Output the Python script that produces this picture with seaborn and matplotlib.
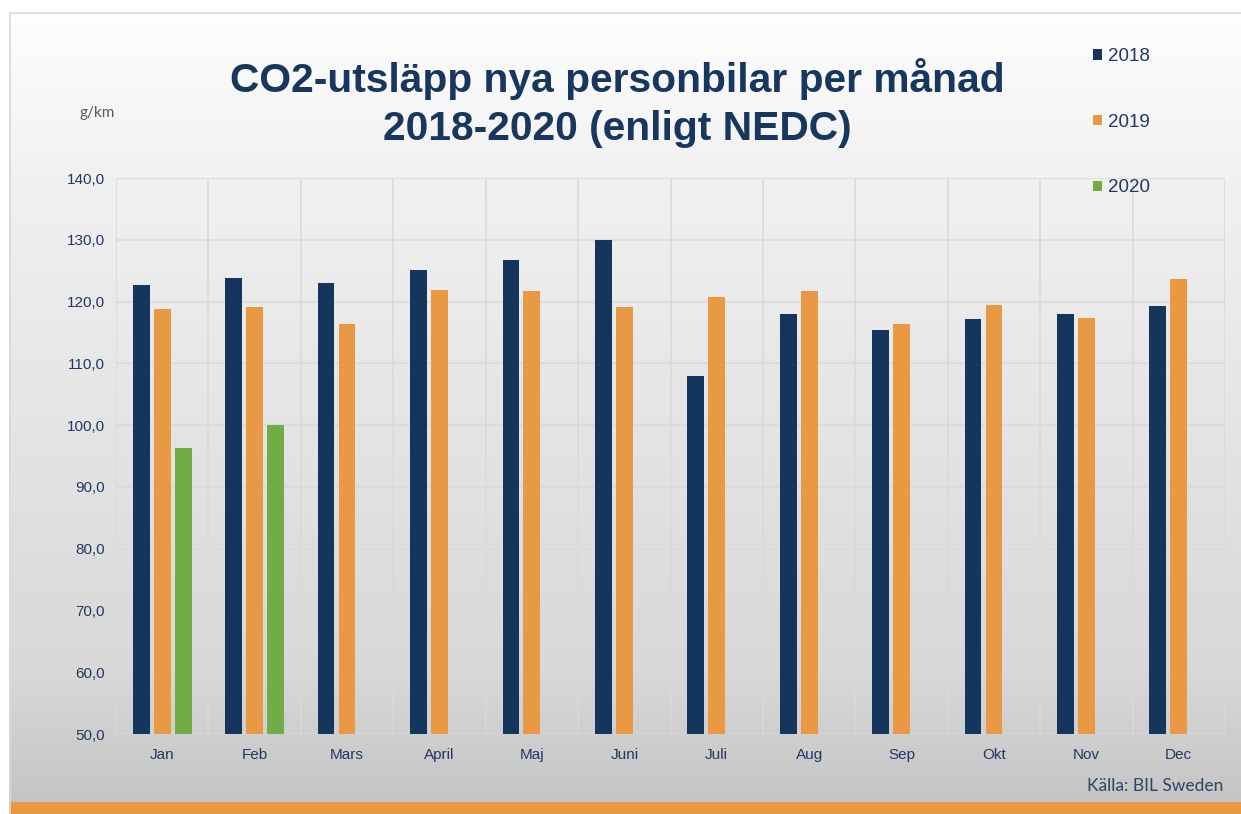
import numpy as np
import pandas as pd
import matplotlib
matplotlib.use("Agg")
import matplotlib.pyplot as plt
import seaborn as sns
from matplotlib.patches import Rectangle
from matplotlib.lines import Line2D
from matplotlib.ticker import FuncFormatter, FixedLocator

# ---- data ----
months = ["Jan", "Feb", "Mars", "April", "Maj", "Juni", "Juli", "Aug", "Sep", "Okt", "Nov", "Dec"]
years = ["2018", "2019", "2020"]
v2018 = [122.6, 123.8, 123.0, 125.1, 126.7, 130.0, 108.0, 118.0, 115.4, 117.2, 118.0, 119.3]
v2019 = [118.8, 119.1, 116.4, 121.9, 121.7, 119.1, 120.7, 121.7, 116.4, 119.4, 117.4, 123.6]
v2020 = [96.3, 100.0]
yticks = [50, 60, 70, 80, 90, 100, 110, 120, 130, 140]
colors = ["#14365C", "#E99843", "#70AD47"]

rows = []
for series, yr in ((v2018, "2018"), (v2019, "2019"), (v2020, "2020")):
    for m, v in zip(months, series):
        rows.append({"month": m, "year": yr, "value": v})
df = pd.DataFrame(rows)

sns.set_theme(style="white")
plt.rcParams['font.family'] = ['Liberation Sans', 'DejaVu Sans']

W, H = 1241, 814
fig = plt.figure(figsize=(W / 100, H / 100), dpi=100)
fig.patch.set_facecolor("white")

# gradient background panel
bg = fig.add_axes([9 / W, 0, 1 - 9 / W, 1 - 12 / H])
bg.set_axis_off()
py = np.arange(12, 814)
g = np.interp(py, [12, 178, 672, 800, 814], [254, 241, 216, 197, 197]) / 255.0
img = np.repeat(g[:, None], 2, axis=1)
bg.imshow(np.dstack([img, img, img]), aspect="auto", extent=[0, 1, 0, 1], interpolation="bilinear")
bg.set_zorder(-10)

# frame lines and bottom orange band
fig.add_artist(Line2D([9.5 / W, 9.5 / W], [0, 1 - 12.5 / H], color="#D9D9D9", lw=1.2, transform=fig.transFigure))
fig.add_artist(Line2D([9.5 / W, 1], [1 - 12.5 / H, 1 - 12.5 / H], color="#D9D9D9", lw=1.2, transform=fig.transFigure))
fig.add_artist(Rectangle((9 / W, 0), 1 - 9 / W, 12 / H, transform=fig.transFigure,
                         facecolor="#E99843", edgecolor="none"))

# main axes
ax = fig.add_axes([116 / W, (814 - 734) / H, (1225 - 116) / W, (734 - 178) / H])
ax.set_facecolor("none")
sns.barplot(data=df, x="month", y="value", hue="year", order=months, hue_order=years,
            palette=colors, width=0.68, gap=0.2, saturation=1, linewidth=0, ax=ax, errorbar=None)

navy = "#1F3864"
ax.set_ylim(50, 140)
ax.set_xlim(-0.5, len(months) - 0.5)
ax.yaxis.set_major_locator(FixedLocator(yticks))
ax.yaxis.set_major_formatter(FuncFormatter(lambda v, p: f"{v:.1f}".replace(".", ",")))
ax.xaxis.set_minor_locator(FixedLocator(np.arange(-0.5, len(months), 1.0)))
ax.grid(axis="y", which="major", color="#D9D9D9", lw=1.1)
ax.grid(axis="x", which="minor", color="#D9D9D9", lw=1.1)
ax.grid(axis="x", which="major", visible=False)
ax.set_axisbelow(True)
for s in ax.spines.values():
    s.set_visible(False)
ax.tick_params(axis="both", which="both", length=0, labelsize=11, colors=navy)
ax.tick_params(axis="y", pad=8)
ax.tick_params(axis="x", pad=10)
ax.set_xlabel("")
ax.set_ylabel("")

handles, labels = ax.get_legend_handles_labels()
ax.get_legend().remove()
leg = fig.legend(handles, labels, loc="upper left", bbox_to_anchor=(1093 / W, 1 - 48 / H),
                 bbox_transform=fig.transFigure, frameon=False, fontsize=13.5,
                 handlelength=0.5, handleheight=0.5, handletextpad=0.3, labelspacing=2.6,
                 borderpad=0, borderaxespad=0)
for t in leg.get_texts():
    t.set_color(navy)

title_c = "#17375E"
fig.text(617 / W, 1 - 79 / H, "CO2-utsläpp nya personbilar per månad", ha="center", va="center",
         fontsize=29.3, fontweight="bold", color=title_c)
fig.text(617 / W, 1 - 129 / H, "2018-2020 (enligt NEDC)", ha="center", va="center",
         fontsize=29.3, fontweight="bold", color=title_c)
fig.text(97 / W, 1 - 113 / H, "g/km", ha="center", va="center", fontsize=11, color="#595959",
         family=["Lato", "DejaVu Sans"])
fig.text(1155 / W, 1 - 786 / H, "Källa: BIL Sweden", ha="center", va="center", fontsize=12.5,
         color="#2B4468", family=["Lato", "DejaVu Sans"])

fig.savefig("out.png", dpi=100)
